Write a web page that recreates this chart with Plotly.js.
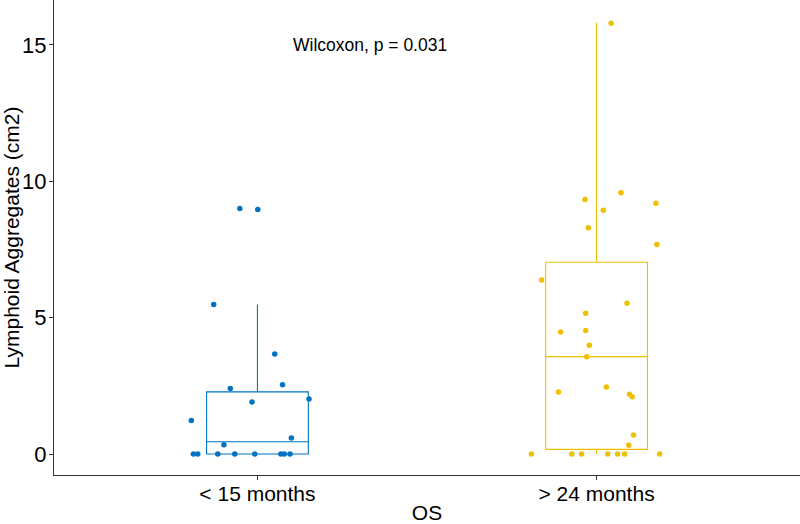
<!DOCTYPE html>
<html>
<head>
<meta charset="utf-8">
<script src="https://cdn.plot.ly/plotly-3.0.1.min.js"></script>
<style>html,body{margin:0;padding:0;background:#fff;}#chart{width:800px;height:524px;}</style>
</head>
<body>
<div id="chart"></div>
<script>
// Categories and tick labels
const categories = ["< 15 months", "> 24 months"];
const categoryPos = [1, 2];

// Group "< 15 months": values and jitter offsets
const shortValues = [9.00, 8.97, 5.48, 3.67, 2.54, 2.40, 2.02, 1.91, 1.23, 0.59, 0.34,
                     0, 0, 0, 0, 0, 0, 0, 0];
const shortJitter = [-0.052, 0.001, -0.129, 0.051, 0.074, -0.080, 0.152, -0.016, -0.195, 0.100, -0.099,
                     -0.189, -0.176, -0.117, -0.067, -0.008, 0.069, 0.079, 0.096];

// Group "> 24 months"
const longValues = [15.80, 9.58, 9.33, 9.20, 8.94, 8.30, 7.68, 6.38, 5.53, 5.16, 4.47, 4.53, 3.99, 3.57,
                    2.27, 2.46, 2.19, 2.10, 0.70, 0.32,
                    0, 0, 0, 0, 0, 0, 0];
const longJitter = [0.043, 0.072, -0.034, 0.175, 0.020, -0.024, 0.178, -0.162, 0.090, -0.032, -0.106, -0.032, -0.021, -0.029,
                    -0.112, 0.029, 0.097, 0.105, 0.109, 0.095,
                    -0.192, -0.073, -0.044, 0.033, 0.062, 0.083, 0.186];

// Box statistics
const boxQ1 = [0, 0.17];
const boxMedian = [0.45, 3.57];
const boxQ3 = [2.28, 7.03];
const boxLower = [0, 0];
const boxUpper = [5.48, 15.82];

const colors = ["#0073C2", "#EFC000"];
const annotationText = "Wilcoxon, p = 0.031";

const groups = [
  {values: shortValues, jitter: shortJitter},
  {values: longValues, jitter: longJitter}
];

const traces = [];
groups.forEach((g, i) => {
  traces.push({
    type: "box",
    x: [categoryPos[i]],
    q1: [boxQ1[i]],
    median: [boxMedian[i]],
    q3: [boxQ3[i]],
    lowerfence: [boxLower[i]],
    upperfence: [boxUpper[i]],
    width: 0.3,
    whiskerwidth: 0,
    boxpoints: false,
    line: {color: colors[i], width: 1.1},
    fillcolor: "rgba(255,255,255,0)",
    hoverinfo: "skip",
    showlegend: false
  });
});
groups.forEach((g, i) => {
  traces.push({
    type: "scatter",
    mode: "markers",
    x: g.values.map((v, k) => categoryPos[i] + g.jitter[k]),
    y: g.values,
    marker: {color: colors[i], size: 5.5, line: {width: 0}},
    hoverinfo: "skip",
    showlegend: false
  });
});

const layout = {
  width: 800,
  height: 524,
  margin: {l: 54, r: 0, t: 0, b: 49},
  paper_bgcolor: "#ffffff",
  plot_bgcolor: "#ffffff",
  font: {family: "Liberation Sans, Arial, sans-serif", color: "#000000"},
  xaxis: {
    range: [0.4, 2.6],
    tickvals: categoryPos,
    ticktext: categories,
    showgrid: false,
    zeroline: false,
    showline: true,
    linecolor: "#333333",
    linewidth: 1,
    ticks: "outside",
    ticklen: 4,
    tickcolor: "#333333",
    ticklabelstandoff: -4,
    tickfont: {size: 21, color: "#000000"},
    title: {text: "OS", font: {size: 21, color: "#000000"}, standoff: 6},
    automargin: false
  },
  yaxis: {
    range: [-0.77, 16.65],
    tickvals: [0, 5, 10, 15],
    showgrid: false,
    zeroline: false,
    showline: true,
    linecolor: "#333333",
    linewidth: 1,
    ticks: "outside",
    ticklen: 4,
    tickcolor: "#333333",
    ticklabelstandoff: -2,
    tickfont: {size: 22, color: "#000000"},
    title: {text: "Lymphoid Aggregates (cm2)", font: {size: 21, color: "#000000"}, standoff: 6},
    automargin: false
  },
  annotations: [{
    x: 1.10, y: 15.0, xref: "x", yref: "y",
    text: annotationText, showarrow: false,
    xanchor: "left", yanchor: "middle",
    font: {size: 17.5, color: "#000000"}
  }]
};

Plotly.newPlot("chart", traces, layout, {displayModeBar: false, staticPlot: true});
</script>
</body>
</html>
